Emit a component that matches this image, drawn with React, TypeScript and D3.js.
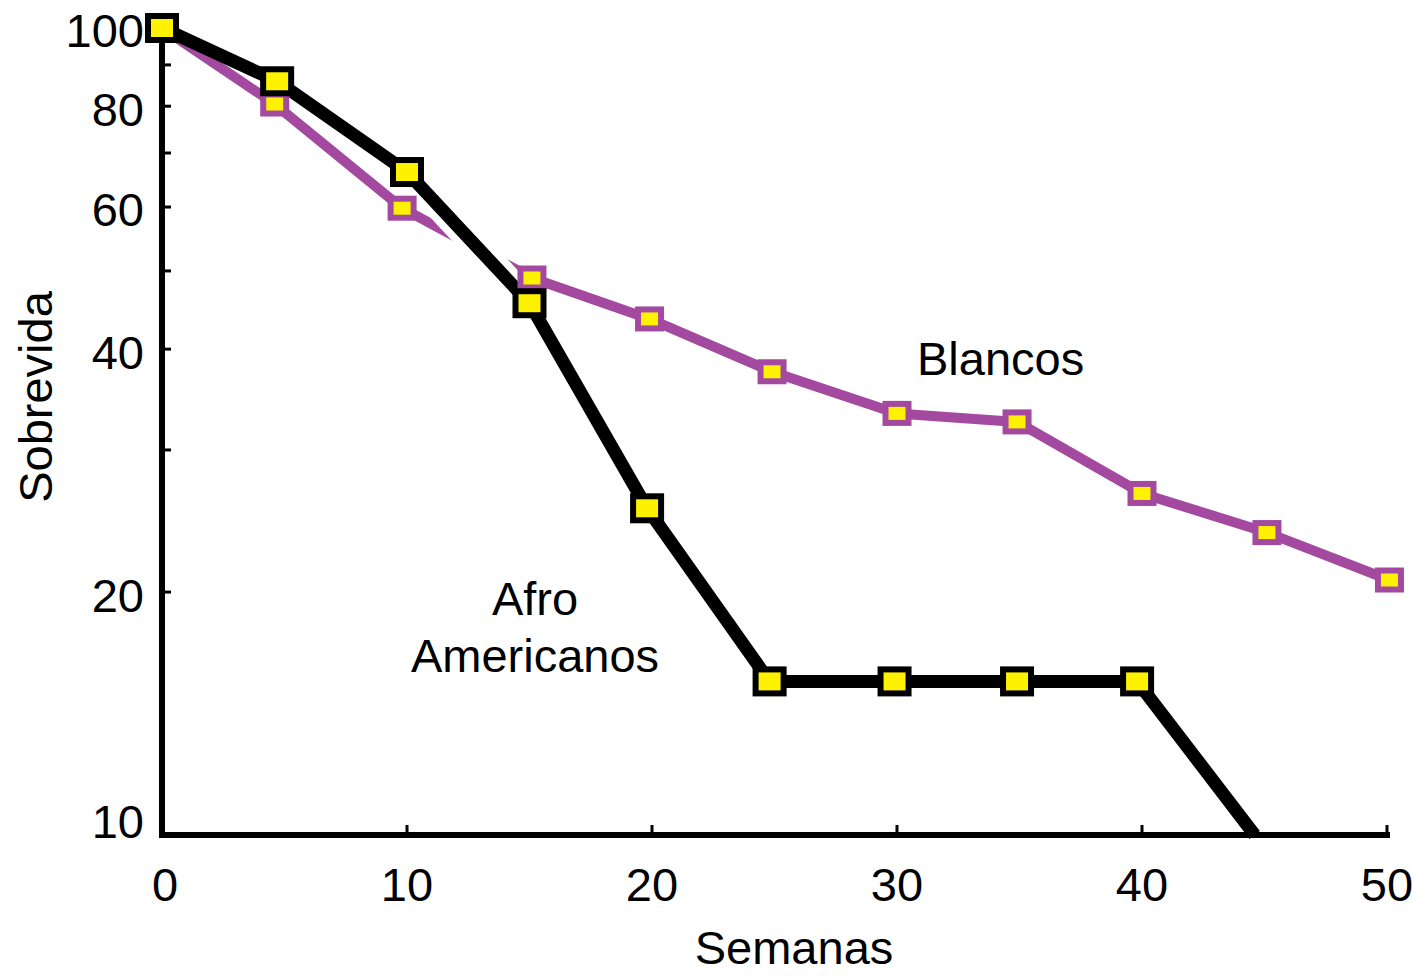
import React from "react";
import * as d3 from "d3";

const WIDTH = 1413;
const HEIGHT = 979;

// Afro Americanos (black)
const weeksAfro = [0, 4.7, 10, 15, 19.8, 24.8, 29.9, 34.9, 39.8, 44.6];
const survivalAfro = [100, 85.9, 66.3, 45.6, 25.4, 15.5, 15.5, 15.5, 15.5, 10];

// Blancos (purple)
const weeksBlancos = [0, 4.6, 9.8, 15.1, 19.9, 24.9, 30, 34.9, 40, 45.1, 50.1];
const survivalBlancos = [100, 80.5, 59.8, 49.0, 43.6, 37.5, 33.3, 32.5, 26.5, 23.7, 20.7];

const xTicks = [0, 10, 20, 30, 40, 50];
const yLabels = [10, 20, 40, 60, 80, 100];
const yMinorTicks = [20, 30, 40, 50, 60, 70, 80, 90];

const FONT = "'Liberation Sans', Arial, sans-serif";
const PURPLE = "#a349a0";
const YELLOW = "#fff200";

interface Pt {
  x: number;
  y: number;
}

export default function App() {
  const x = d3.scaleLinear().domain([0, 50]).range([162, 1387]);
  const y = d3.scaleLog().domain([10, 100]).range([835, 28]);

  const afro: Pt[] = weeksAfro.map((w, i) => ({ x: w, y: survivalAfro[i] }));
  const blancos: Pt[] = weeksBlancos.map((w, i) => ({ x: w, y: survivalBlancos[i] }));

  const line = d3
    .line<Pt>()
    .x((d) => x(d.x))
    .y((d) => y(d.y));

  // white halo where the black line crosses the purple one
  const haloSeg = afro.slice(2, 4);

  return (
    <svg
      width={WIDTH}
      height={HEIGHT}
      style={{ position: "absolute", left: 0, top: 0, background: "#fff" }}
    >
      {/* axes */}
      <g stroke="#000" strokeLinecap="square">
        <line x1={x(0)} x2={x(0)} y1={y(100)} y2={y(10)} strokeWidth={6} />
        <line x1={x(0)} x2={x(50)} y1={y(10)} y2={y(10)} strokeWidth={6} />
        {yMinorTicks.map((t) => (
          <line key={t} x1={x(0)} x2={x(0) + 9} y1={y(t)} y2={y(t)} strokeWidth={3} strokeLinecap="butt" />
        ))}
        {xTicks.slice(1).map((t) => (
          <line key={t} x1={x(t)} x2={x(t)} y1={y(10)} y2={y(10) - 10} strokeWidth={3} strokeLinecap="butt" />
        ))}
      </g>

      {/* tick labels */}
      <g fontFamily={FONT} fontSize={47} fill="#000">
        {yLabels.map((t) => (
          <text key={t} x={144} y={y(t) + (t === 10 ? -13 : 3)} dy="0.35em" textAnchor="end">
            {t}
          </text>
        ))}
        {xTicks.map((t) => (
          <text key={t} x={x(t) + (t === 0 ? 3 : 0)} y={901} textAnchor="middle">
            {t}
          </text>
        ))}
      </g>

      {/* axis titles */}
      <text x={794} y={964} textAnchor="middle" fontFamily={FONT} fontSize={47}>
        Semanas
      </text>
      <text
        transform="translate(52,397) rotate(-90)"
        textAnchor="middle"
        fontFamily={FONT}
        fontSize={47}
      >
        Sobrevida
      </text>

      {/* lines */}
      <path d={line(blancos) || ""} fill="none" stroke={PURPLE} strokeWidth={10} strokeLinejoin="round" strokeLinecap="round" />
      <path d={line(haloSeg) || ""} fill="none" stroke="#fff" strokeWidth={28} />
      <path d={line(afro) || ""} fill="none" stroke="#000" strokeWidth={13} strokeLinejoin="round" />

      {/* markers */}
      {blancos.map((d, i) => (
        <rect
          key={`b-${i}`}
          x={x(d.x) - 11.5}
          y={y(d.y) - 9.5}
          width={23}
          height={19}
          fill={YELLOW}
          stroke={PURPLE}
          strokeWidth={6}
        />
      ))}
      {afro
        .filter((d) => d.y > 10)
        .map((d, i) => (
          <rect
            key={`a-${i}`}
            x={x(d.x) - 14}
            y={y(d.y) - 12}
            width={28}
            height={24}
            fill={YELLOW}
            stroke="#000"
            strokeWidth={6}
          />
        ))}

      {/* series labels */}
      <g fontFamily={FONT} fontSize={47} fill="#000">
        <text x={917} y={375}>
          Blancos
        </text>
        <text x={535} y={615} textAnchor="middle">
          Afro
        </text>
        <text x={535} y={672} textAnchor="middle">
          Americanos
        </text>
      </g>
    </svg>
  );
}
